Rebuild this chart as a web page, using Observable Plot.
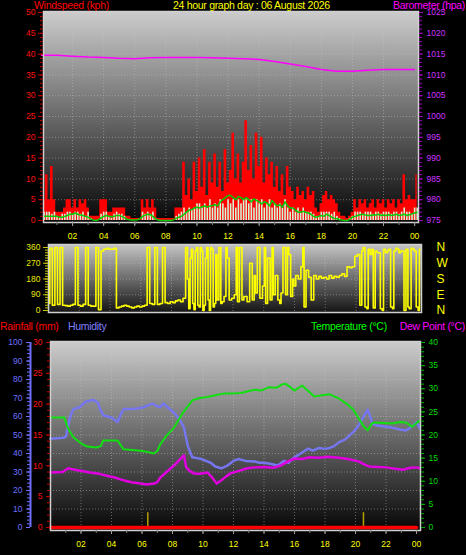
<!DOCTYPE html>
<html><head><meta charset="utf-8">
<script src="https://cdn.jsdelivr.net/npm/d3@7"></script>
<script src="https://cdn.jsdelivr.net/npm/@observablehq/plot@0.6"></script>
<style>
html,body{margin:0;padding:0;background:#000;}
#wrap{position:relative;width:466px;height:555px;background:#000;overflow:hidden;font-family:"Liberation Sans",Arial,sans-serif;}
.hdr{position:absolute;font-size:10.5px;line-height:10px;height:10px;white-space:nowrap;letter-spacing:-0.3px;}
.pl{position:absolute;left:0;}
</style></head><body>
<div id="wrap">
  <div class="pl" id="p1" style="top:0px"></div>
  <div class="pl" id="p2" style="top:238px"></div>
  <div class="pl" id="p3" style="top:334px"></div>
  <div class="hdr" style="left:34px;top:0px;color:#ff0000">Windspeed (kph)</div>
  <div class="hdr" style="left:173px;top:0px;color:#ffff00">24 hour graph day : 06 August 2026</div>
  <div class="hdr" style="right:1px;top:0px;color:#ff00ff">Barometer (hpa)</div>
  <div class="hdr" style="left:0px;top:321px;color:#ff0000">Rainfall (mm)</div>
  <div class="hdr" style="left:68px;top:321px;color:#8080ff">Humidity</div>
  <div class="hdr" style="left:311px;top:321px;color:#00ff00">Temperature (°C)</div>
  <div class="hdr" style="right:1px;top:321px;color:#ff00ff">Dew Point (°C)</div>
</div>
<script>
// ---------- tick labels ----------
const hourTicks = [2,4,6,8,10,12,14,16,18,20,22,24];
const windTicks = [0,5,10,15,20,25,30,35,40,45,50];
const dirTicks = [0,90,180,270,360];
const compass = ["N","E","S","W","N"];
const humTicks = [0,10,20,30,40,50,60,70,80,90,100];
const rainTicks = [0,5,10,15,20,25,30];
const tempTicks = [0,5,10,15,20,25,30,35,40];

// ---------- top panel (10 minute samples, first at 00:10) ----------
const windGust = [
 5,11,5,13,5,2,
 2,2,3,5,5,3,
 5,3,5,4,5,3,
 1,1,1,1,5,5,
 5,2,2,3,3,3,
 3,3,1,1,0.5,0.5,
 0.5,0.5,5,3,5,3,
 5,3,0.5,0.5,0.5,0.5,
 0.5,0.5,0.5,3,3,3,
 14,6,10,5,14,7,
 15,8,17,6,14,9,
 16,8,14,7,17,9,
 12,21,10,16,9,14,
 24,12,18,10,21,13,
 20,9,15,11,14,8,
 13,7,11,6,13,8,
 7,5,8,6,7,5,
 8,6,7,3,2,4,
 6,7,5,6,5,4,
 2,1,1,0.5,1,2,
 5,3,5,4,5,3,
 4,5,3,5,4,5,
 3,5,4,5,3,5,
 4,11,5,6,5,5,
 11];
const windSpeed = [
 2,2,2,1.5,2,1,
 0.5,1.5,1.5,2,2,1.5,
 2,2,1.5,2,1,2,
 0.5,0,0,0,1.5,2,
 2,1,0.5,1.5,2,1.5,
 1.5,1,0,0,0,0,
 0,0,2,1.5,2,1.5,
 2,0.5,0,0,0,0,
 0,0,0,1,1.5,2,
 3,2,3,2.5,3,4,
 4,3,4,3,5,3,
 4,3,5,4,3,5,
 4,5,3,5,4,5,
 5,4,5,3,5,4,
 5,3,4,5,3,4,
 3,4,3,5,3,2,
 3,2,3,2,3,2,
 2,2,1.5,1,1,2,
 2,2,2,1.5,2,1,
 0.5,0,0,0,0.5,1,
 2,2,2,1.5,2,2,
 2,1.5,2,2,1.5,2,
 2,2,1.5,2,2,1.5,
 2,3,2,2,1.5,3,
 3];
const windAvg = [
 1,1,1,1,1,1,
 0.8,0.8,1,1.2,1.5,1.5,
 1.8,1.5,1.3,1.2,1,0.8,
 0.4,0.1,0,0.2,0.6,1,
 1.2,1,0.9,1,1.2,1.2,
 1,0.7,0.3,0.2,0.1,0.1,
 0.2,0.4,1,1.3,1.5,1.4,
 1,0.4,0.1,0,0,0,
 0,0,0.2,0.5,0.8,1,
 1.5,2,2.5,2.6,3,3.2,
 3,3.3,3.5,3.2,3.5,3.6,
 3.8,3.5,4.5,5,5.5,6,
 6,5.5,5,5.8,5.5,5,
 5.5,5,4.5,5.2,4.8,4.5,
 4,4.5,4.2,3.5,4.8,4,
 3.5,3.8,3.2,4.5,3.5,3,
 3,2.5,2,2,2.2,2,
 1.8,1.5,1,0.8,1,1.2,
 1,1.5,1.2,0.8,0.5,0.4,
 0.2,0.1,0,0,0.3,0.8,
 1,1.2,1.4,1.5,1.3,1.2,
 1.2,1.4,1.3,1.5,1.2,1.3,
 1.2,1.4,1.2,1.3,1.5,1.2,
 1.3,1.5,1.2,1.4,1.6,1.8,
 2];
// hourly barometer, 00 .. 24
const barometer = [1014.7,1014.7,1014.5,1014.3,1014.2,1014.0,1013.9,1014.1,1014.2,1014.2,1014.2,1014.1,1014.0,
 1013.9,1013.7,1013.2,1012.6,1012.0,1011.3,1010.9,1010.9,1011.1,1011.3,1011.3,1011.3];

// ---------- wind direction (10 minute samples from 00:00) ----------
const windDir = [
 40,355,30,360,35,360,
 30,28,25,30,35,360,
 30,25,35,360,30,25,
 25,360,5,340,350,355,
 350,350,355,15,20,25,
 30,25,20,15,20,25,
 20,25,30,360,40,35,
 360,35,40,360,45,40,
 50,45,55,60,50,70,
 360,10,350,5,360,20,
 340,30,360,0,350,40,
 60,360,50,80,300,60,
 70,90,50,360,60,80,
 50,270,60,100,360,70,
 140,40,300,60,90,200,
 60,100,360,90,320,80,
 140,200,180,250,20,230,
 190,60,200,180,195,185,
 190,180,200,185,195,190,
 200,210,195,250,245,250,
 310,320,30,360,20,350,
 320,15,340,330,10,350,
 330,350,20,340,355,330,
 340,0,350,10,355,340,
 20,350];
// extra in-between direction readings [hour, degrees] in the gusty periods
const windDirExtra = [[9.08,180],[9.25,300],[9.42,40],[9.58,340],[9.75,30],[9.92,360],[10.08,0],[10.25,300],
 [10.42,60],[10.58,360],[10.75,20],[10.92,320],[11.25,40],[11.58,360],[12.25,360],[12.75,80],[13.42,200],
 [14.08,360],[14.58,360],[15.08,40],[15.58,360],[15.92,180],[16.58,360],[20.42,340],[20.75,10],[21.08,350],
 [21.42,330],[21.75,0],[22.08,340],[22.42,10],[22.75,350],[23.08,340],[23.42,20],[23.75,350],[24.08,0]];

// ---------- bottom panel: [hour, value] ----------
const temperature = [[0,23.8],[0.9,23.8],[1.15,21.4],[1.5,19.5],[2.0,18.2],[2.4,17.5],[3.0,17.3],[3.3,17.6],[3.45,18.8],[4.4,18.8],[4.6,17.8],[4.8,16.9],[5.9,16.6],[6.3,16.4],[6.75,16.0],[7.0,16.5],[7.2,18.0],[7.6,19.8],[8.1,21.6],[8.7,24.9],[9.3,27.5],[9.8,28.0],[10.3,28.2],[10.8,28.6],[11.4,29.0],[12.0,29.0],[12.5,29.1],[13.0,29.5],[13.4,29.8],[13.8,29.6],[14.3,30.3],[14.8,30.2],[15.1,30.8],[15.4,31.1],[15.7,30.4],[16.0,29.6],[16.5,30.7],[16.9,29.5],[17.3,28.3],[17.8,28.6],[18.3,28.8],[18.9,27.9],[19.4,26.8],[19.8,25.7],[20.1,24.2],[20.3,23.1],[20.6,21.6],[20.8,21.0],[21.1,22.6],[21.3,22.7],[21.8,22.6],[22.4,22.5],[22.9,22.8],[23.3,22.7],[23.7,21.8],[24.0,22.6],[24.2,23.1]];
const humidity = [[0,48],[0.8,48.5],[1.0,49],[1.3,60],[1.5,64],[1.9,65],[2.3,68],[2.8,69],[3.1,67.5],[3.3,63],[3.5,60.5],[4.0,59.5],[4.4,57],[4.6,61],[4.8,64],[5.4,64],[5.8,64.5],[6.1,65],[6.4,66],[6.7,67],[7.0,65.5],[7.2,65],[7.4,67],[7.6,65.5],[8.1,62],[8.5,58],[8.75,54],[9.0,44],[9.3,38],[9.6,37.5],[9.9,37],[10.2,36],[10.5,35],[10.8,33],[11.2,32],[11.6,33.5],[12.0,36],[12.3,37],[12.8,36],[13.4,35.7],[13.7,35],[14.0,35],[14.4,34.5],[14.9,33.5],[15.3,36],[15.6,35],[16.0,38],[16.4,40],[16.9,42.7],[17.2,41.5],[17.6,43],[18.0,42.5],[18.3,43],[18.6,44],[18.9,46],[19.3,47.5],[19.6,49.7],[19.9,52],[20.1,54],[20.4,58],[20.6,61],[20.8,63.7],[21.0,59],[21.1,56],[21.5,55],[22.0,54.5],[22.4,54],[22.9,53],[23.3,52.4],[23.6,54],[24.0,57],[24.2,54]];
const dewPoint = [[0,11.9],[0.8,12.0],[1.15,12.8],[1.6,12.5],[2.6,11.9],[3.2,11.6],[3.7,11.2],[4.2,10.8],[4.8,10.2],[5.3,9.8],[5.9,9.5],[6.3,9.3],[6.8,9.5],[7.0,9.8],[7.2,10.8],[7.6,12.0],[8.1,13.4],[8.5,14.8],[8.75,15.6],[8.9,13.0],[9.1,12.3],[9.4,11.7],[9.8,11.6],[10.3,11.9],[10.6,10.8],[10.9,9.5],[11.2,10.2],[11.5,11.0],[11.8,11.7],[12.3,12.2],[12.9,12.8],[13.4,13.0],[14.0,13.1],[14.6,12.9],[15.1,13.4],[15.5,14.2],[16.0,14.9],[16.5,14.8],[17.0,15.2],[17.6,15.1],[18.2,15.3],[18.9,15.1],[19.5,14.8],[20.2,14.3],[20.6,13.6],[20.9,13.2],[21.5,13.1],[22.0,13.0],[22.6,12.7],[23.1,12.5],[23.6,12.9],[24.0,13.0],[24.2,12.8]];
const rainfall = [0,0,0,0,0,0,0,0,0,0,0,0,0,0,0,0,0,0,0,0,0,0,0,0,0];
const sunEvents = [6.38, 20.52];

// ---------- helpers ----------
const fmtHour = d => String(Math.round(d) % 24).padStart(2, "0");
const font = "Liberation Sans, Arial, sans-serif";
function gradDefs(id, c0, c1) {
  return () => {
    const defs = d3.create("svg:defs");
    const g = defs.append("linearGradient").attr("id", id)
      .attr("x1", 0).attr("y1", 0).attr("x2", 0).attr("y2", 1);
    g.append("stop").attr("offset", "0%").attr("stop-color", c0);
    g.append("stop").attr("offset", "100%").attr("stop-color", c1);
    return defs.node();
  };
}
const gridStyle = {stroke: "#c8c8c8", strokeOpacity: 0.45, strokeDasharray: "1,2"};
const everyHour = d3.range(1, 25);
const plain = d => String(d);

// ---------- plot 1: wind + barometer ----------
const windRows = windGust.map((g, i) => ({t: (i + 1) / 6, gust: g, speed: windSpeed[i], avg: windAvg[i]}));
const baroRows = barometer.map((b, i) => ({h: i, b}));
const p1 = Plot.plot({
  width: 466, height: 245,
  marginLeft: 43, marginRight: 48, marginTop: 11, marginBottom: 23,
  x: {domain: [0.13, 24.25], axis: null},
  y: {domain: [0, 50], insetTop: 1, insetBottom: 2, axis: null},
  style: {background: "transparent", fontFamily: font, fontSize: "8.5px", overflow: "visible"},
  marks: [
    gradDefs("g1", "#cccccc", "#060606"),
    Plot.frame({fill: "url(#g1)"}),
    Plot.ruleY(windTicks.slice(1, -1), gridStyle),
    Plot.ruleX(hourTicks.slice(0, -1), gridStyle),
    Plot.areaY(windRows, {x: "t", y: "gust", curve: "step", fill: "#ff0000"}),
    Plot.rectY(windRows, {x1: d => d.t - 1 / 12, x2: d => d.t + 1 / 12, y: "speed", fill: "#d4f4d4", insetLeft: 1}),
    Plot.lineY(windRows, {x: "t", y: "avg", stroke: "#00cc00", strokeWidth: 1.5}),
    Plot.lineY(baroRows, {x: "h", y: d => d.b - 975, stroke: "#ff00ff", strokeWidth: 1.5}),
    Plot.frame({stroke: "#d0d0d0", strokeWidth: 1.5}),
    Plot.axisY({ticks: d3.range(0, 51), tickSize: 3, tickFormat: () => "", stroke: "#c00000", label: null}),
    Plot.axisY({ticks: windTicks, tickSize: 5, tickPadding: 3, tickFormat: plain, fill: "#ff1010", stroke: "#c00000", label: null}),
    Plot.axisY({anchor: "right", ticks: d3.range(0, 51), tickSize: 3, tickFormat: () => "", stroke: "#a000c0", label: null}),
    Plot.axisY({anchor: "right", ticks: windTicks, tickSize: 4, tickPadding: 4, tickFormat: d => String(d + 975), fill: "#cc33ff", stroke: "#a000c0", label: null}),
    Plot.axisX({ticks: everyHour, tickSize: 3, tickFormat: () => "", stroke: "#808080", label: null}),
    Plot.axisX({ticks: hourTicks, tickSize: 4, tickPadding: 6, tickFormat: fmtHour, fill: "#ffff00", stroke: "#a0a0a0", label: null})
  ]
});
document.getElementById("p1").append(p1);

// ---------- plot 2: wind direction ----------
const dirRows = windDir.map((v, i) => ({t: i / 6, v}))
  .concat(windDirExtra.map(([t, v]) => ({t, v})))
  .sort((a, b) => a.t - b.t);
const p2 = Plot.plot({
  width: 466, height: 82,
  marginLeft: 48, marginRight: 45, marginTop: 6, marginBottom: 8,
  x: {domain: [0, 24.26], axis: null},
  y: {domain: [0, 360], insetTop: 3, insetBottom: 2, axis: null},
  style: {background: "transparent", fontFamily: font, fontSize: "8.5px", overflow: "visible"},
  marks: [
    gradDefs("g2", "#c4c4c4", "#141414"),
    Plot.frame({fill: "url(#g2)"}),
    Plot.ruleY(dirTicks.slice(1, -1), gridStyle),
    Plot.ruleX(hourTicks.slice(0, -1), gridStyle),
    Plot.lineY(dirRows, {x: "t", y: "v", curve: "step", stroke: "#ffff00", strokeWidth: 1.6, clip: true}),
    Plot.frame({stroke: "#d0d0d0", strokeWidth: 1.5}),
    Plot.axisY({ticks: d3.range(0, 361, 15), tickSize: 3, tickFormat: () => "", stroke: "#c8c800", label: null}),
    Plot.axisY({ticks: dirTicks, tickSize: 5, tickPadding: 3, tickFormat: plain, fill: "#e8e800", stroke: "#c8c800", label: null}),
    Plot.axisY({anchor: "right", ticks: dirTicks, tickSize: 0, tickPadding: 15, tickFormat: d => compass[dirTicks.indexOf(d)], fill: "#ffff00", fontSize: 12, label: null})
  ]
});
document.getElementById("p2").append(p2);

// ---------- plot 3: temperature / humidity / dew point / rain ----------
const rainRows = rainfall.map((r, i) => ({h: i, r}));
const p3 = Plot.plot({
  width: 466, height: 221,
  marginLeft: 50, marginRight: 46, marginTop: 7, marginBottom: 25,
  x: {domain: [0, 24.26], axis: null},
  y: {domain: [0, 100], insetTop: 1, insetBottom: 3, axis: null},
  style: {background: "transparent", fontFamily: font, fontSize: "8.5px", overflow: "visible"},
  marks: [
    gradDefs("g3", "#cccccc", "#060606"),
    Plot.frame({fill: "url(#g3)"}),
    Plot.ruleY(humTicks.slice(1, -1), gridStyle),
    Plot.ruleX(hourTicks.slice(0, -1), gridStyle),
    Plot.ruleX(sunEvents, {y1: 0, y2: 8, stroke: "#b8a000", strokeWidth: 1.5}),
    Plot.lineY(rainRows, {x: "h", y: d => d.r * 100 / 30, stroke: "#ff0000", strokeWidth: 3.5}),
    Plot.lineY(humidity, {x: d => d[0], y: d => d[1], stroke: "#7676f0", strokeWidth: 2.5}),
    Plot.lineY(temperature, {x: d => d[0], y: d => d[1] * 2.5, stroke: "#10e010", strokeWidth: 2}),
    Plot.lineY(dewPoint, {x: d => d[0], y: d => d[1] * 2.5, stroke: "#e000e0", strokeWidth: 2.5}),
    Plot.frame({stroke: "#d0d0d0", strokeWidth: 1.5}),
    // humidity axis (outer left)
    Plot.ruleX([0], {dx: -20, y1: 0, y2: 100, stroke: "#6f6fff", strokeWidth: 2}),
    Plot.axisY({ticks: d3.range(0, 101, 2), dx: -20, tickSize: 3, tickFormat: () => "", stroke: "#6f6fff", label: null}),
    Plot.axisY({ticks: humTicks, dx: -20, tickSize: 4, tickPadding: 4, tickFormat: plain, fill: "#7070ff", stroke: "#6f6fff", label: null}),
    // rainfall axis (inner left)
    Plot.axisY({ticks: d3.range(0, 31).map(r => r * 100 / 30), tickSize: 3, tickFormat: () => "", stroke: "#c00000", label: null}),
    Plot.axisY({ticks: rainTicks.map(r => r * 100 / 30), tickSize: 4, tickPadding: 4, tickFormat: d => String(Math.round(d * 30 / 100)), fill: "#ff1010", stroke: "#c00000", label: null}),
    // temperature axis (right)
    Plot.axisY({anchor: "right", ticks: d3.range(0, 41).map(t => t * 2.5), tickSize: 3, tickFormat: () => "", stroke: "#00b000", label: null}),
    Plot.axisY({anchor: "right", ticks: tempTicks.map(t => t * 2.5), tickSize: 4, tickPadding: 4, tickFormat: d => String(Math.round(d / 2.5)), fill: "#00dd00", stroke: "#00b000", label: null}),
    Plot.axisX({ticks: everyHour, tickSize: 3, tickFormat: () => "", stroke: "#808080", label: null}),
    Plot.axisX({ticks: hourTicks, tickSize: 4, tickPadding: 6, tickFormat: fmtHour, fill: "#ffff00", stroke: "#a0a0a0", label: null})
  ]
});
document.getElementById("p3").append(p3);
</script>
</body></html>
